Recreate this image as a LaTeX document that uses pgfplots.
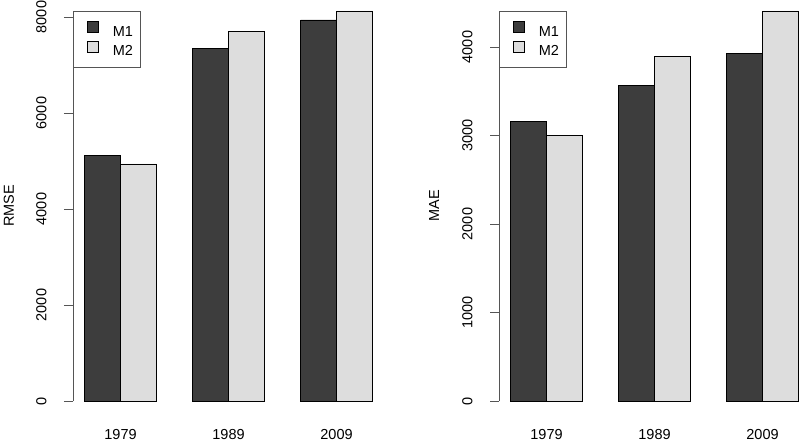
\documentclass[border=0pt]{standalone}
\usepackage{pgfplots}
\pgfplotsset{compat=1.18}
\usepackage{fontspec}
\setmainfont{Liberation Sans}

\definecolor{mOne}{HTML}{3D3D3D}
\definecolor{mTwo}{HTML}{DDDDDD}
\definecolor{axisgray}{HTML}{555555}

\pgfplotsset{
  rbar/.style={
    scale only axis,
    height=390pt,
    ybar, bar width=1, bar shift=0pt,
    xmin=0.68, ymin=0,
    clip=false,
    axis y line*=left,
    axis x line*=bottom,
    x axis line style={draw=none},
    y axis line style={draw=axisgray, line width=0.7pt},
    xtick={2,5,8},
    xticklabels={1979,1989,2009},
    xtick style={draw=none},
    ytick style={draw=axisgray, line width=0.7pt},
    tick align=outside,
    major tick length=9pt,
    tick label style={font=\fontsize{14.5}{16}\selectfont},
    /pgf/number format/assume math mode=true,
    /pgf/number format/1000 sep={},
    yticklabel style={rotate=90, anchor=south, yshift=14pt},
    xticklabel style={anchor=base, yshift=-29pt},
    label style={font=\fontsize{14.5}{16}\selectfont},
    ylabel style={at={(axis description cs:0,0.5)}, anchor=base, yshift=59pt},
    legend style={at={(rel axis cs:0,1)}, anchor=north west, draw=axisgray,
      line width=0.6pt, font=\fontsize{14.5}{16}\selectfont,
      inner xsep=7pt, inner ysep=10pt, row sep=3pt,
      nodes={inner sep=0pt},
      /tikz/every odd column/.append style={column sep=14pt}},
    legend cell align=left,
    legend image code/.code={\path (0pt,0pt);
      \draw[#1, draw=black, line width=0.5pt] (7pt,-0.5pt) rectangle (18pt,10.5pt);},
    every axis plot/.append style={draw=black, line width=0.6pt},
  }
}

\begin{document}
\begin{tikzpicture}
\path[use as bounding box] (0pt,0pt) rectangle (800pt,442pt);

\begin{axis}[rbar,
    at={(73pt,41pt)}, anchor=south west,
    width=311.04pt,
    xmax=9.32, ymax=8125,
    ytick={0,2000,4000,6000,8000},
    ylabel={RMSE},
  ]
  \addplot[fill=mOne] coordinates {(1.5,5125) (4.5,7354) (7.5,7940)};
  \addplot[fill=mTwo] coordinates {(2.5,4940) (5.5,7708) (8.5,8125)};
  \legend{M1, M2}
\end{axis}

\begin{axis}[rbar,
    at={(499pt,41pt)}, anchor=south west,
    width=300.96pt,
    xmax=9.04, ymax=4407,
    ytick={0,1000,2000,3000,4000},
    ylabel={MAE},
    ylabel style={yshift=1pt},
  ]
  \addplot[fill=mOne] coordinates {(1.5,3156) (4.5,3563) (7.5,3929)};
  \addplot[fill=mTwo] coordinates {(2.5,2998) (5.5,3898) (8.5,4407)};
  \legend{M1, M2}
\end{axis}
\end{tikzpicture}
\end{document}
